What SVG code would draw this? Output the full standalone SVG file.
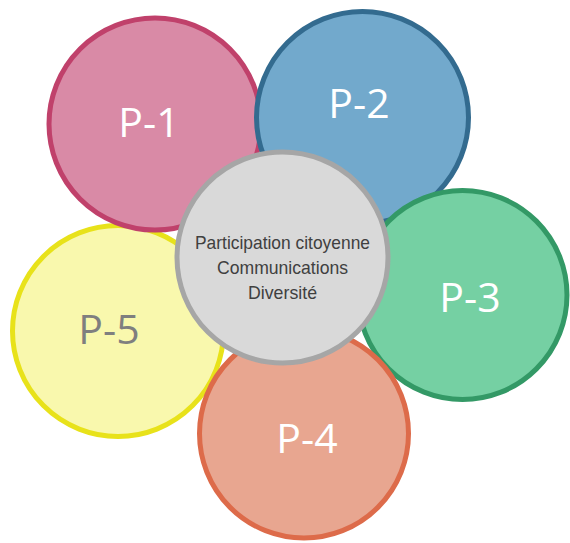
<svg xmlns="http://www.w3.org/2000/svg" width="570" height="543" viewBox="0 0 570 543">
<style>
.c{stroke-width:5}
.lbl{font-family:"Open Sans","Noto Sans",sans-serif;font-size:41px;text-anchor:middle;fill:#ffffff}
.ctr{font-family:"Liberation Sans",Arial,sans-serif;font-size:19px;text-anchor:middle;fill:#404040}
</style>
<rect width="570" height="543" fill="#ffffff"/>
<g id="p5"><circle class="c" cx="118" cy="331" r="105.5" fill="#f9f8ad" stroke="#e8e21a"/><text class="lbl" x="109" y="344" style="fill:#7f7f7f">P-5</text></g>
<g id="p1"><circle class="c" cx="155" cy="124" r="106" fill="#d98aa6" stroke="#c0416b"/><text class="lbl" x="149" y="137">P-1</text></g>
<g id="p2"><circle class="c" cx="362.5" cy="117.5" r="106" fill="#72a9cc" stroke="#336b8f"/><text class="lbl" x="359" y="118">P-2</text></g>
<g id="p3"><circle class="c" cx="462.5" cy="295" r="104.5" fill="#75d0a3" stroke="#339966"/><text class="lbl" x="470" y="312">P-3</text></g>
<g id="p4"><circle class="c" cx="304" cy="433.5" r="104.5" fill="#e8a690" stroke="#dd6b4a"/><text class="lbl" x="307" y="453">P-4</text></g>
<g id="center"><circle class="c" cx="282.5" cy="257.5" r="105.5" fill="#d9d9d9" stroke="#a6a6a6"/>
<text class="ctr" x="282.5" y="249" textLength="175" lengthAdjust="spacingAndGlyphs">Participation citoyenne</text>
<text class="ctr" x="282.5" y="274" textLength="131" lengthAdjust="spacingAndGlyphs">Communications</text>
<text class="ctr" x="282.5" y="299" textLength="69" lengthAdjust="spacingAndGlyphs">Diversité</text></g>
<g id="connectors"/>
</svg>
